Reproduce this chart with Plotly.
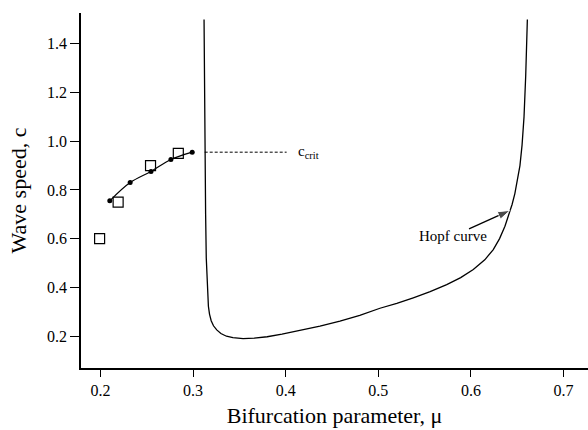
import plotly.graph_objects as go

# Travelling-wave speeds from simulation (open squares) and continuation (dots)
sim_mu = [0.199, 0.219, 0.254, 0.284]
sim_c = [0.60, 0.75, 0.90, 0.95]

cont_mu = [0.210, 0.232, 0.2545, 0.276, 0.299]
cont_c = [0.755, 0.830, 0.876, 0.925, 0.955]

# Hopf bifurcation curve in the (mu, c) plane
hopf_mu = [0.3118, 0.3122, 0.3128, 0.3135, 0.3142, 0.3150, 0.3157, 0.3165,
           0.3177, 0.3195, 0.3220, 0.3255, 0.3300, 0.3360, 0.3430, 0.3540,
           0.3660, 0.3800, 0.3960, 0.4154, 0.4370, 0.4586, 0.4800, 0.5018,
           0.5200, 0.5378, 0.5560, 0.5739, 0.5890, 0.6026, 0.6150, 0.6242,
           0.6310, 0.6368, 0.6410, 0.6445, 0.6475, 0.6505, 0.6530, 0.6553,
           0.6574, 0.6592, 0.6610]
hopf_c = [1.50, 1.20, 0.95, 0.70, 0.52, 0.42, 0.365, 0.322,
          0.290, 0.263, 0.242, 0.225, 0.210, 0.199, 0.193, 0.189,
          0.191, 0.197, 0.208, 0.223, 0.241, 0.261, 0.285, 0.314,
          0.334, 0.357, 0.382, 0.411, 0.440, 0.473, 0.513, 0.555,
          0.600, 0.651, 0.695, 0.740, 0.785, 0.840, 0.900, 0.985,
          1.100, 1.267, 1.50]

c_crit = 0.955
crit_mu = [0.3125, 0.401]

# Pointer to the Hopf curve: tail, then head
arrow_mu = [0.598, 0.6424]
arrow_c = [0.640, 0.716]

x_ticks = [0.2, 0.3, 0.4, 0.5, 0.6, 0.7]
y_ticks = [0.2, 0.4, 0.6, 0.8, 1.0, 1.2, 1.4]

FONT = "Liberation Serif"

fig = go.Figure()

fig.add_trace(go.Scatter(
    x=hopf_mu, y=hopf_c, mode="lines",
    line=dict(color="black", width=1.3),
    showlegend=False, hoverinfo="skip"))

fig.add_trace(go.Scatter(
    x=crit_mu, y=[c_crit, c_crit], mode="lines",
    line=dict(color="black", width=1, dash="3px,2px"),
    showlegend=False, hoverinfo="skip"))

fig.add_trace(go.Scatter(
    x=cont_mu, y=cont_c, mode="lines+markers",
    line=dict(color="black", width=1.2, shape="spline"),
    marker=dict(symbol="circle", size=5, color="black"),
    showlegend=False))

fig.add_trace(go.Scatter(
    x=sim_mu, y=sim_c, mode="markers",
    marker=dict(symbol="square-open", size=10, color="black",
                line=dict(width=1.2, color="black")),
    showlegend=False))

fig.add_trace(go.Scatter(
    x=arrow_mu, y=arrow_c, mode="lines+markers",
    line=dict(color="black", width=1.3),
    marker=dict(symbol=["circle", "arrow"], size=[0, 13], color="black",
                angleref="previous", standoff=0),
    showlegend=False, hoverinfo="skip"))

fig.add_annotation(
    x=0.411, y=c_crit, xref="x", yref="y",
    text="c<sub>crit</sub>", showarrow=False, xanchor="left", yanchor="middle",
    font=dict(family=FONT, size=15, color="black"))

fig.add_annotation(
    x=0.5806, y=0.61, xref="x", yref="y",
    text="Hopf curve", showarrow=False, xanchor="center", yanchor="middle",
    font=dict(family=FONT, size=15, color="black"))

fig.update_layout(
    width=588, height=430,
    margin=dict(l=81, r=0, t=13, b=62),
    paper_bgcolor="white", plot_bgcolor="white",
    font=dict(family=FONT, color="black"),
    showlegend=False,
)

fig.update_xaxes(
    range=[0.1789, 0.7265], tickvals=x_ticks,
    ticktext=[f"{v:.1f}" for v in x_ticks],
    ticks="outside", ticklen=7, tickwidth=1.2, tickcolor="black",
    showline=True, linecolor="black", linewidth=1.5,
    showgrid=False, zeroline=False,
    tickfont=dict(family=FONT, size=16, color="black"),
    title=dict(text="Bifurcation parameter, μ",
               font=dict(family=FONT, size=22, color="black"), standoff=10),
)

fig.update_yaxes(
    range=[0.0686, 1.5266], tickvals=y_ticks,
    ticktext=[f"{v:.1f}" for v in y_ticks],
    ticks="outside", ticklen=9, tickwidth=1.2, tickcolor="black",
    showline=True, linecolor="black", linewidth=1.5,
    showgrid=False, zeroline=False,
    tickfont=dict(family=FONT, size=16, color="black"),
    title=dict(text="Wave speed, c",
               font=dict(family=FONT, size=22, color="black"), standoff=14),
)

fig.write_html("out.html")
